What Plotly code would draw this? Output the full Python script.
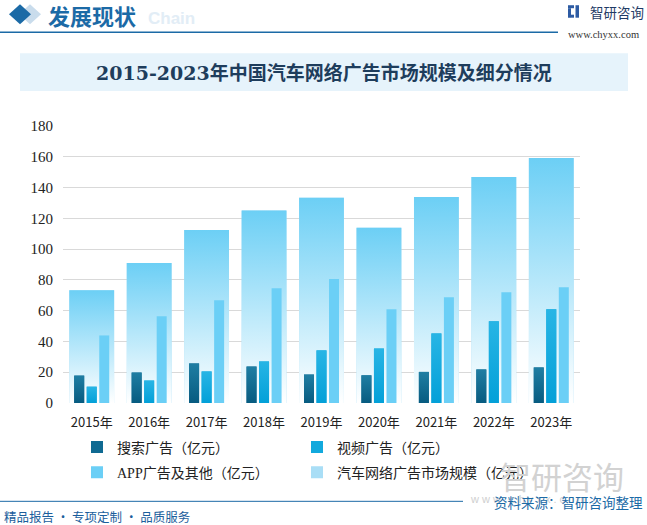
import plotly.graph_objects as go

# ---------------- data ----------------
years = ["2015年", "2016年", "2017年", "2018年", "2019年", "2020年", "2021年", "2022年", "2023年"]
search = [17.8, 19.8, 25.7, 23.7, 18.5, 18.0, 20.2, 21.8, 23.1]
video = [10.6, 14.6, 20.5, 27.0, 34.2, 35.4, 45.2, 53.1, 60.9]
app = [43.9, 56.3, 66.8, 74.6, 80.5, 60.9, 68.7, 72.0, 75.2]
total = [73.3, 90.9, 112.5, 125.1, 133.3, 113.8, 133.9, 146.9, 159.2]
y_ticks = [0, 20, 40, 60, 80, 100, 120, 140, 160, 180]

names = ["搜索广告（亿元）", "视频广告（亿元）", "APP广告及其他（亿元）", "汽车网络广告市场规模（亿元）"]

# ---------------- geometry / style ----------------
W, H = 647, 525
L, R, T, B = 63, 67, 126, 121.5
PW, PH = W - L - R, H - T - B

def px(x):
    return (x - L) / PW

def py(y):
    return (H - B - y) / PH

xs = list(range(len(years)))
TOT_W, TOT_OFF = 0.78, -0.39
SW = 0.174
OFFS = [-0.305, -0.087, 0.131]

C_SEARCH = ["#075b80", "#1f7ea3"]
C_VIDEO = ["#03a0d8", "#28b5e5"]
C_APP = "#6bcff6"
C_TOT = ["#ffffff", "#6ccff5"]

fig = go.Figure()

# legend / base bar traces (two legend columns)
fig.add_trace(go.Bar(x=xs, y=search, name=names[0], width=SW, offset=OFFS[0],
                     marker=dict(color="#0f6a92", line=dict(width=0)), zorder=0,
                     legend="legend", legendgroup="a"))
fig.add_trace(go.Bar(x=xs, y=video, name=names[1], width=SW, offset=OFFS[1],
                     marker=dict(color="#12a9dd", line=dict(width=0)), zorder=0,
                     legend="legend2", legendgroup="b"))
fig.add_trace(go.Bar(x=xs, y=app, name=names[2], width=SW, offset=OFFS[2],
                     marker=dict(color=C_APP, line=dict(width=0)), zorder=0,
                     legend="legend", legendgroup="c"))
fig.add_trace(go.Bar(x=xs, y=total, name=names[3], width=TOT_W, offset=TOT_OFF,
                     marker=dict(color="#a9def6", line=dict(width=0)), zorder=-2,
                     legend="legend2", legendgroup="d"))

# gradient overlays drawn from the same data
def grad_rects(vals, off, w, colors, z):
    for i, v in enumerate(vals):
        x0, x1 = xs[i] + off, xs[i] + off + w
        fig.add_trace(go.Scatter(
            x=[x0, x1, x1, x0, x0], y=[0, 0, v, v, 0],
            mode="lines", line=dict(width=0), fill="toself",
            fillgradient=dict(type="vertical", colorscale=[[0, colors[0]], [1, colors[1]]]),
            showlegend=False, hoverinfo="skip", zorder=z))

grad_rects(total, TOT_OFF, TOT_W, C_TOT, -1)
grad_rects(search, OFFS[0], SW, C_SEARCH, 1)
grad_rects(video, OFFS[1], SW, C_VIDEO, 1)

FONT_CN = "Noto Sans CJK SC"
BLUE = "#1b6aa6"

shapes = []
annotations = []

# header
def diamond(cx, cy, hw, hh, color):
    pts = [(cx - hw, cy), (cx, cy - hh), (cx + hw, cy), (cx, cy + hh)]
    path = "M " + " L ".join(f"{px(a):.5f},{py(b):.5f}" for a, b in pts) + " Z"
    return dict(type="path", xref="paper", yref="paper", path=path,
                fillcolor=color, line=dict(width=0), layer="above")

shapes.append(diamond(30, 14, 11, 10, "#c9dcec"))
shapes.append(diamond(20, 14, 11, 10, BLUE))
annotations.append(dict(text="<b>Chain</b>", x=px(146), y=py(18), xref="paper", yref="paper",
                        xanchor="left", yanchor="middle", showarrow=False,
                        font=dict(family="Liberation Sans", size=17, color="#e2edf6")))
annotations.append(dict(text="<b>发展现状</b>", x=px(46), y=py(15), xref="paper", yref="paper",
                        xanchor="left", yanchor="middle", showarrow=False,
                        font=dict(family=FONT_CN, size=22, color=BLUE)))
shapes.append(dict(type="line", xref="paper", yref="paper", x0=px(0), x1=px(558),
                   y0=py(32), y1=py(32), line=dict(color=BLUE, width=1.5)))

# logo top right
for (a, b, c, d) in [(568, 5, 574, 8), (568, 8, 571, 17), (568, 14.5, 574, 17.5),
                     (575.5, 5, 579, 17.5)]:
    shapes.append(dict(type="rect", xref="paper", yref="paper", x0=px(a), x1=px(c),
                       y0=py(b), y1=py(d), fillcolor="#2d5ba3", line=dict(width=0)))
annotations.append(dict(text="智研咨询", x=px(588), y=py(12), xref="paper", yref="paper",
                        xanchor="left", yanchor="middle", showarrow=False,
                        font=dict(family=FONT_CN, size=13.5, color="#1f3b66")))
annotations.append(dict(text="www.chyxx.com", x=px(566), y=py(34), xref="paper", yref="paper",
                        xanchor="left", yanchor="middle", showarrow=False,
                        font=dict(family="Liberation Serif", size=10.5, color="#333333")))

# title band
shapes.append(dict(type="rect", xref="paper", yref="paper", x0=px(20), x1=px(628),
                   y0=py(91), y1=py(53), fillcolor="#e6f3fb", line=dict(width=0), layer="below"))
annotations.append(dict(text="<b>2015-2023年中国汽车网络广告市场规模及细分情况</b>",
                        x=px(324), y=py(73), xref="paper", yref="paper",
                        xanchor="center", yanchor="middle", showarrow=False,
                        font=dict(family="DejaVu Serif, " + FONT_CN, size=19, color="#1e3d5c")))

# watermark bottom right
annotations.append(dict(text="智研咨询", x=px(498), y=py(476), xref="paper", yref="paper",
                        xanchor="left", yanchor="middle", showarrow=False,
                        font=dict(family=FONT_CN, size=31, color="#d2d2d2")))
annotations.append(dict(text="w w w . c h y x x . c o m", x=px(468), y=py(500), xref="paper",
                        yref="paper", xanchor="left", yanchor="middle", showarrow=False,
                        font=dict(family="Liberation Sans", size=11, color="#cfcfcf")))

# footer
shapes.append(dict(type="line", xref="paper", yref="paper", x0=px(0), x1=px(463),
                   y0=py(502), y1=py(502), line=dict(color=BLUE, width=1)))
annotations.append(dict(text="资料来源：智研咨询整理", x=px(645), y=py(503), xref="paper", yref="paper",
                        xanchor="right", yanchor="middle", showarrow=False,
                        font=dict(family=FONT_CN, size=13.5, color=BLUE)))
annotations.append(dict(text="精品报告 · 专项定制 · 品质服务", x=px(2), y=py(517), xref="paper",
                        yref="paper", xanchor="left", yanchor="middle", showarrow=False,
                        font=dict(family=FONT_CN, size=12.5, color="#1b5e9c")))

LEG_FONT = dict(family="Liberation Serif, " + FONT_CN, size=14, color="#222222")
leg_common = dict(orientation="v", yanchor="top", xanchor="left", traceorder="grouped",
                  tracegroupgap=4, font=LEG_FONT, bgcolor="rgba(0,0,0,0)", itemclick=False)

fig.update_layout(
    width=W, height=H,
    margin=dict(l=L, r=R, t=T, b=B, pad=0, autoexpand=False),
    paper_bgcolor="white", plot_bgcolor="white",
    barmode="overlay",
    showlegend=True,
    legend=dict(x=px(77), y=py(432), **leg_common),
    legend2=dict(x=px(297), y=py(432), **leg_common),
    xaxis=dict(range=[-0.5, 8.5], tickvals=xs, ticktext=years, showgrid=False,
               zeroline=False, showline=False, ticks="",
               tickfont=dict(family=FONT_CN, size=13, color="#222222"), ticklabelstandoff=10),
    yaxis=dict(range=[0, 180], tickvals=y_ticks, showgrid=True, gridcolor="#d9d9d9",
               gridwidth=1, zeroline=False, showline=False, ticks="",
               tickfont=dict(family="Liberation Serif", size=15, color="#222222"),
               ticklabelstandoff=9),
    yaxis2=dict(range=[0, 180], tickvals=y_ticks, overlaying="y", side="right",
                showgrid=False, zeroline=False, showline=False, ticks="",
                tickfont=dict(family="Liberation Serif", size=15, color="#222222"),
                ticklabelstandoff=7),
    shapes=shapes,
    annotations=annotations,
)

fig.write_html("out.html", config={"displayModeBar": False},
               post_script="document.body.style.margin='0';document.body.style.overflow='hidden';")
